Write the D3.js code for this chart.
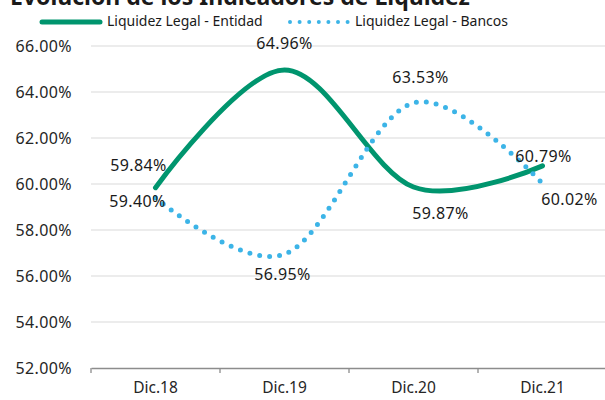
<!DOCTYPE html>
<html><head><meta charset="utf-8">
<script src="https://cdn.jsdelivr.net/npm/d3@7"></script>
<style>
html,body{margin:0;padding:0;background:#fff;}
svg{display:block;font-family:"Noto Sans","Open Sans",sans-serif;}
</style></head>
<body>
<svg id="chart" width="605" height="400"></svg>
<script>
const title = "Evolución de los Indicadores de Liquidez";
const categories = ["Dic.18", "Dic.19", "Dic.20", "Dic.21"];
const seriesNames = ["Liquidez Legal - Entidad", "Liquidez Legal - Bancos"];
const entidad = [59.84, 64.96, 59.87, 60.79];
const bancos = [59.40, 56.95, 63.53, 60.02];
const yTicks = [52, 54, 56, 58, 60, 62, 64, 66];

// label placement offsets (styling, px)
const entidadLabelOffsets = [[-17, -21], [0, -25], [27, 28], [1, -8]];
const bancosLabelOffsets = [[-18, 5], [-2, 22], [7, -24], [27, 17]];

const svg = d3.select("#chart");
const W = 605, H = 400;
const m = {left: 91, right: -2};
const x = d3.scaleBand().domain(categories).range([m.left, W - m.right]);
const y = d3.scaleLinear().domain([52, 66]).range([368, 46]);
const green = "#00956E", blue = "#3CB4E7";
const numFont = {size: 16, ls: 0.4};

// title (partially cut off at top, as in the reference)
svg.append("text").attr("x", 10).attr("y", 5)
  .attr("font-size", 23).attr("font-weight", "bold").attr("fill", "#1a1a1a")
  .text(title);

// gridlines
svg.append("g").selectAll("line").data(yTicks.filter(d => d > 52)).join("line")
  .attr("x1", m.left).attr("x2", W).attr("y1", d => y(d)).attr("y2", d => y(d))
  .attr("stroke", "#d9d9d9").attr("stroke-width", 1);

// y axis labels
const yAxis = d3.axisLeft(y).tickValues(yTicks).tickFormat(d => d.toFixed(2) + "%").tickSize(0).tickPadding(19);
const gy = svg.append("g").attr("transform", `translate(${m.left},0)`).call(yAxis);
gy.select(".domain").remove();
gy.selectAll("text").attr("font-size", numFont.size).attr("letter-spacing", numFont.ls)
  .attr("fill", "#262626").attr("font-family", "Noto Sans");

// x axis
const xAxis = d3.axisBottom(x).tickSize(0).tickPadding(14);
const gx = svg.append("g").attr("transform", `translate(0,${y(52)})`).call(xAxis);
gx.select(".domain").attr("stroke", "#8c8c8c").attr("stroke-width", 1.3);
gx.selectAll("text").attr("font-size", 15.5).attr("fill", "#262626").attr("font-family", "Noto Sans");
// boundary tick marks
svg.append("g").selectAll("line").data(categories).join("line")
  .attr("x1", d => x(d)).attr("x2", d => x(d))
  .attr("y1", y(52)).attr("y2", y(52) + 5)
  .attr("stroke", "#8c8c8c").attr("stroke-width", 1.3);

const line = d3.line()
  .x((d, i) => x(categories[i]) + x.bandwidth() / 2)
  .y(d => y(d))
  .curve(d3.curveCardinal.tension(0));

svg.append("path").datum(entidad).attr("d", line)
  .attr("fill", "none").attr("stroke", green).attr("stroke-width", 5).attr("stroke-linecap", "round");
svg.append("path").datum(bancos).attr("d", line)
  .attr("fill", "none").attr("stroke", blue).attr("stroke-width", 5)
  .attr("stroke-linecap", "round").attr("stroke-dasharray", "0 10");

function labels(data, offs) {
  svg.append("g").selectAll("text").data(data).join("text")
    .attr("x", (d, i) => x(categories[i]) + x.bandwidth() / 2 + offs[i][0])
    .attr("y", (d, i) => y(d) + offs[i][1])
    .attr("text-anchor", "middle").attr("dominant-baseline", "middle")
    .attr("font-size", numFont.size).attr("letter-spacing", numFont.ls).attr("fill", "#1a1a1a")
    .text(d => d.toFixed(2) + "%");
}
labels(entidad, entidadLabelOffsets);
labels(bancos, bancosLabelOffsets);

// legend
const lg = svg.append("g").attr("font-size", 14).attr("fill", "#1a1a1a");
lg.append("line").attr("x1", 42).attr("x2", 100).attr("y1", 22).attr("y2", 22)
  .attr("stroke", green).attr("stroke-width", 5).attr("stroke-linecap", "round");
lg.append("text").attr("x", 107).attr("y", 22).attr("dominant-baseline", "middle")
  .text(seriesNames[0]);
lg.append("line").attr("x1", 290).attr("x2", 348).attr("y1", 22).attr("y2", 22)
  .attr("stroke", blue).attr("stroke-width", 4).attr("stroke-linecap", "round").attr("stroke-dasharray", "0 9.6");
lg.append("text").attr("x", 355).attr("y", 22).attr("dominant-baseline", "middle")
  .text(seriesNames[1]);
</script>
</body></html>
